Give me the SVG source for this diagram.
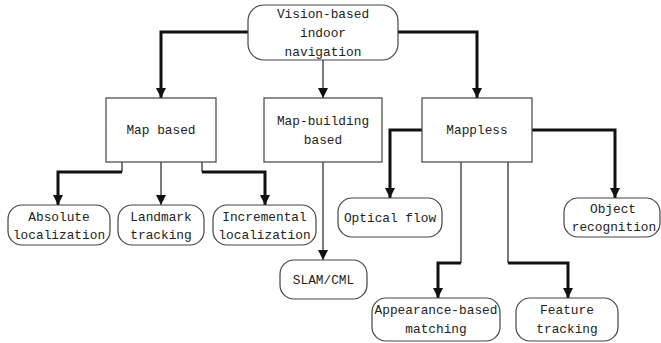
<svg xmlns="http://www.w3.org/2000/svg" width="661" height="343" viewBox="0 0 661 343">
  <style>
    .node { fill: #fff; stroke: #444; stroke-width: 1.2; }
    .label { font-family: "Liberation Mono", "DejaVu Sans Mono", monospace; font-size: 12.8px; fill: #222; text-anchor: middle; }
    .thick { fill: none; stroke: #111; stroke-width: 3; }
    .thin { fill: none; stroke: #222; stroke-width: 1.2; }
  </style>
  <defs>
    <marker id="arrow" markerUnits="userSpaceOnUse" markerWidth="10" markerHeight="12" viewBox="0 0 10 12" refX="10" refY="6" orient="auto">
      <path d="M0,1 L10,6 L0,11 Z" fill="#111"/>
    </marker>
  </defs>
  <rect width="661" height="343" fill="#fff"/>

  <g id="connectors">
    <path class="thick" d="M248,32 H161 V98" marker-end="url(#arrow)"/>
    <path class="thin" d="M323,60 V98" marker-end="url(#arrow)"/>
    <path class="thick" d="M398,32 H477 V98" marker-end="url(#arrow)"/>

    <path class="thin" d="M122,162 V172"/>
    <path class="thick" d="M122,172 H58 V205" marker-end="url(#arrow)"/>
    <path class="thin" d="M161,162 V205" marker-end="url(#arrow)"/>
    <path class="thin" d="M202,162 V172"/>
    <path class="thick" d="M202,172 H265 V205" marker-end="url(#arrow)"/>

    <path class="thin" d="M323,162 V260" marker-end="url(#arrow)"/>

    <path class="thick" d="M422,130 H390 V198" marker-end="url(#arrow)"/>
    <path class="thick" d="M532,130 H615 V198" marker-end="url(#arrow)"/>
    <path class="thin" d="M461,162 V263"/>
    <path class="thick" d="M461,263 H438 V298" marker-end="url(#arrow)"/>
    <path class="thin" d="M508,162 V263"/>
    <path class="thick" d="M508,263 H568 V298" marker-end="url(#arrow)"/>
  </g>

  <g id="vision-nav">
    <rect class="node" x="248" y="5" width="150" height="55" rx="16"/>
    <text class="label" x="323" y="18">Vision-based</text>
    <text class="label" x="323" y="37">indoor</text>
    <text class="label" x="323" y="56">navigation</text>
  </g>

  <g id="map-based">
    <rect class="node" x="106" y="98" width="110" height="64"/>
    <text class="label" x="161" y="134">Map based</text>
  </g>

  <g id="map-building">
    <rect class="node" x="264" y="98" width="118" height="64"/>
    <text class="label" x="323" y="125">Map-building</text>
    <text class="label" x="323" y="144">based</text>
  </g>

  <g id="mappless">
    <rect class="node" x="422" y="98" width="110" height="64"/>
    <text class="label" x="477" y="134">Mappless</text>
  </g>

  <g id="absolute">
    <rect class="node" x="8" y="205" width="102" height="40" rx="14"/>
    <text class="label" x="59" y="221">Absolute</text>
    <text class="label" x="59" y="239">localization</text>
  </g>

  <g id="landmark">
    <rect class="node" x="118" y="205" width="86" height="40" rx="14"/>
    <text class="label" x="161" y="221">Landmark</text>
    <text class="label" x="161" y="239">tracking</text>
  </g>

  <g id="incremental">
    <rect class="node" x="213" y="205" width="103" height="40" rx="14"/>
    <text class="label" x="264.5" y="221">Incremental</text>
    <text class="label" x="264.5" y="239">localization</text>
  </g>

  <g id="slam">
    <rect class="node" x="280" y="260" width="87" height="39" rx="14"/>
    <text class="label" x="323.5" y="284">SLAM/CML</text>
  </g>

  <g id="optical-flow">
    <rect class="node" x="338" y="198" width="104" height="39" rx="14"/>
    <text class="label" x="390" y="222">Optical flow</text>
  </g>

  <g id="object-recognition">
    <rect class="node" x="564" y="198" width="96" height="39" rx="14"/>
    <text class="label" x="613" y="213">Object</text>
    <text class="label" x="614" y="231">recognition</text>
  </g>

  <g id="appearance">
    <rect class="node" x="372" y="298" width="128" height="43" rx="14"/>
    <text class="label" x="436" y="314">Appearance-based</text>
    <text class="label" x="436" y="333">matching</text>
  </g>

  <g id="feature">
    <rect class="node" x="516" y="298" width="102" height="43" rx="14"/>
    <text class="label" x="567" y="314">Feature</text>
    <text class="label" x="567" y="333">tracking</text>
  </g>
</svg>
